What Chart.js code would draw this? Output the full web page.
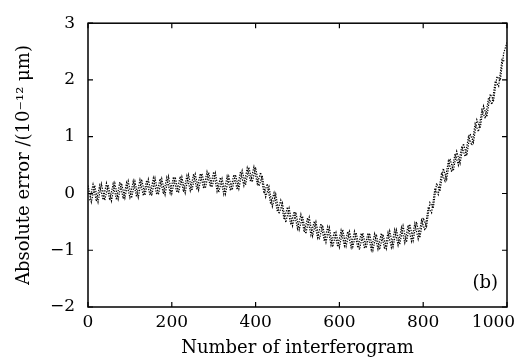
<!DOCTYPE html>
<html>
<head>
<meta charset="utf-8">
<script src="https://cdn.jsdelivr.net/npm/chart.js@4.4.1/dist/chart.umd.min.js"></script>
<style>
  html, body { margin: 0; padding: 0; background: #fff; }
  #wrap { width: 521px; height: 360px; }
</style>
</head>
<body>
<div id="wrap"><canvas id="grafico"></canvas></div>
<script>
// numero de interferograma: dos trazas entrelazadas (paso de 8)
let interferogramasA = [];
for (let i = 0; i <= 125; i++) interferogramasA.push(i * 8);
let interferogramasB = [];
for (let i = 0; i <= 124; i++) interferogramasB.push(i * 8 + 4);

// error absoluto (10^-12 um)
let errorA = [
  0.14, -0.15, 0.14, -0.15, 0.17, -0.12, 0.15, -0.13, 0.18, -0.10,
  0.18, -0.08, 0.22, -0.08, 0.21, -0.07, 0.25, -0.03, 0.25, -0.04,
  0.27, -0.02, 0.26, -0.02, 0.30, 0.00, 0.29, 0.01, 0.29, 0.01,
  0.33, 0.05, 0.34, 0.06, 0.35, 0.09, 0.37, 0.11, 0.36, 0.02,
  0.26, -0.01, 0.30, 0.06, 0.33, 0.08, 0.40, 0.15, 0.46, 0.20,
  0.46, 0.13, 0.31, -0.06, 0.12, -0.23, -0.01, -0.36, -0.17, -0.51,
  -0.26, -0.57, -0.33, -0.64, -0.40, -0.71, -0.42, -0.75, -0.50, -0.81,
  -0.56, -0.86, -0.60, -0.94, -0.69, -0.95, -0.64, -0.93, -0.67, -0.94,
  -0.69, -0.99, -0.70, -0.96, -0.70, -1.00, -0.72, -0.99, -0.72, -0.97,
  -0.66, -0.94, -0.64, -0.90, -0.57, -0.86, -0.54, -0.83, -0.50, -0.78,
  -0.43, -0.58, -0.16, -0.26, 0.18, 0.04, 0.44, 0.25, 0.61, 0.40,
  0.74, 0.53, 0.88, 0.67, 1.05, 0.90, 1.30, 1.15, 1.54, 1.35,
  1.75, 1.64, 2.06, 1.99, 2.47, 2.66
];
let errorB = [
  -0.12, 0.16, -0.14, 0.14, -0.11, 0.18, -0.12, 0.17, -0.11, 0.20,
  -0.09, 0.19, -0.07, 0.22, -0.06, 0.24, -0.04, 0.23, -0.03, 0.27,
  -0.02, 0.26, -0.01, 0.28, 0.01, 0.29, 0.02, 0.30, 0.03, 0.31,
  0.05, 0.34, 0.07, 0.35, 0.09, 0.38, 0.12, 0.38, 0.04, 0.28,
  -0.01, 0.30, 0.05, 0.33, 0.07, 0.39, 0.14, 0.45, 0.21, 0.47,
  0.17, 0.37, 0.00, 0.17, -0.19, 0.01, -0.32, -0.12, -0.46, -0.24,
  -0.55, -0.32, -0.62, -0.37, -0.68, -0.43, -0.73, -0.49, -0.78, -0.53,
  -0.84, -0.59, -0.91, -0.67, -0.94, -0.65, -0.92, -0.67, -0.95, -0.67,
  -0.96, -0.70, -0.97, -0.70, -0.99, -0.71, -0.98, -0.70, -0.98, -0.69,
  -0.95, -0.64, -0.91, -0.60, -0.87, -0.56, -0.84, -0.53, -0.80, -0.47,
  -0.65, -0.24, -0.34, 0.09, -0.02, 0.37, 0.22, 0.57, 0.38, 0.70,
  0.50, 0.83, 0.65, 1.00, 0.85, 1.23, 1.09, 1.47, 1.32, 1.69,
  1.57, 1.98, 1.89, 2.36, 2.32
];

let ticksX = [0, 200, 400, 600, 800, 1000];
let ticksY = [-2, -1, 0, 1, 2, 3];
let etiquetaPanel = '(b)';

let fuente = 'DejaVu Serif';

function puntos(xs, ys) {
  return xs.map(function(x, i) { return { x: x, y: ys[i] }; });
}

// marco y marcas interiores
const marcoPlugin = {
  id: 'marco',
  afterDraw(chart) {
    let ctx = chart.ctx;
    let a = chart.chartArea;
    let sx = chart.scales.x;
    let sy = chart.scales.y;
    let tl = 5;
    ctx.save();
    ctx.strokeStyle = '#000';
    ctx.lineWidth = 1.5;
    ctx.strokeRect(a.left, a.top, a.right - a.left, a.bottom - a.top);
    ctx.lineWidth = 1.2;
    ctx.beginPath();
    ticksX.forEach(function(v) {
      let px = sx.getPixelForValue(v);
      ctx.moveTo(px, a.bottom); ctx.lineTo(px, a.bottom - tl);
      ctx.moveTo(px, a.top); ctx.lineTo(px, a.top + tl);
    });
    ticksY.forEach(function(v) {
      let py = sy.getPixelForValue(v);
      ctx.moveTo(a.left, py); ctx.lineTo(a.left + tl, py);
      ctx.moveTo(a.right, py); ctx.lineTo(a.right - tl, py);
    });
    ctx.stroke();
    ctx.fillStyle = '#000';
    ctx.font = '18px "' + fuente + '"';
    ctx.textAlign = 'right';
    ctx.textBaseline = 'middle';
    ctx.fillText(etiquetaPanel, a.right - 9, a.bottom - 24);
    ctx.restore();
  }
};

let estiloTraza = {
  borderColor: '#000',
  borderWidth: 1.2,
  borderDash: [1.3, 1.3],
  pointRadius: 0,
  tension: 0,
  fill: false
};

let ctx = document.getElementById('grafico').getContext('2d');
let chartError = new Chart(ctx, {
  type: 'line',
  data: {
    datasets: [
      Object.assign({ data: puntos(interferogramasA, errorA) }, estiloTraza),
      Object.assign({ data: puntos(interferogramasB, errorB) }, estiloTraza)
    ]
  },
  options: {
    responsive: true,
    maintainAspectRatio: false,
    animation: false,
    layout: { padding: { left: 0, top: 16, right: 14, bottom: 0 } },
    plugins: {
      legend: { display: false },
      tooltip: { enabled: false }
    },
    scales: {
      x: {
        type: 'linear',
        min: 0,
        max: 1000,
        grid: { display: false, drawTicks: false },
        border: { display: false },
        afterBuildTicks: function(scale) {
          scale.ticks = ticksX.map(function(v) { return { value: v }; });
        },
        afterFit: function(scale) {
          scale.height = 53;
          scale.paddingRight = 0;
          scale.paddingLeft = 0;
        },
        ticks: {
          color: '#000',
          padding: 5,
          maxRotation: 0,
          font: { family: fuente, size: 17 },
          callback: function(v) { return v === 1000 ? '1000     ' : String(v); }
        },
        title: {
          display: true,
          text: 'Number of interferogram',
          color: '#000',
          font: { family: fuente, size: 18 },
          padding: { top: 0, bottom: 1 }
        }
      },
      y: {
        min: -2,
        max: 3,
        grid: { display: false, drawTicks: false },
        border: { display: false },
        afterBuildTicks: function(scale) {
          scale.ticks = ticksY.map(function(v) { return { value: v }; });
        },
        afterFit: function(scale) {
          scale.width = 88;
        },
        ticks: {
          color: '#000',
          padding: 13,
          font: { family: fuente, size: 17 },
          callback: function(v) { return String(v).replace('-', '\u2212'); }
        },
        title: {
          display: true,
          text: 'Absolute error /(10\u207B\u00B9\u00B2 \u03BCm)',
          color: '#000',
          font: { family: fuente, size: 18 },
          padding: { top: 14, bottom: 0 }
        }
      }
    }
  },
  plugins: [marcoPlugin]
});
</script>
</body>
</html>
